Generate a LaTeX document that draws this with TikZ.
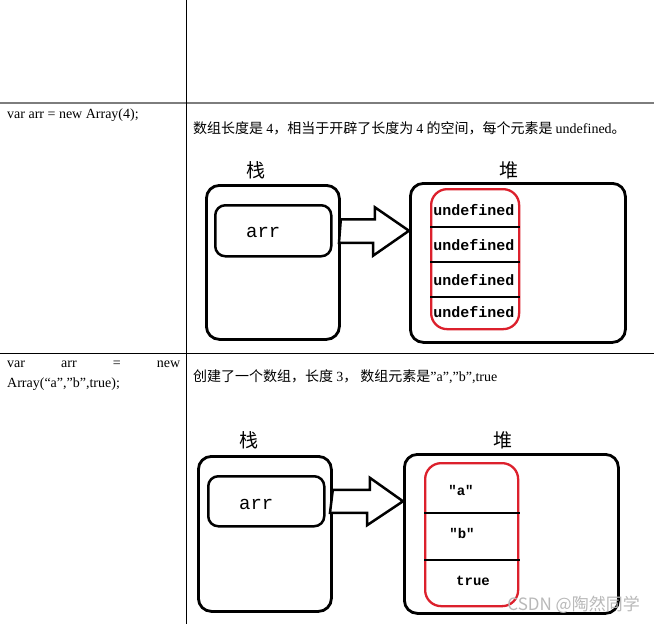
\documentclass[tikz,border=0pt]{standalone}
\usepackage{fontspec}
\setmainfont{Liberation Serif}
\setmonofont{Liberation Mono}
\newfontfamily\cjk{Noto Sans CJK SC}
\definecolor{BoxRed}{RGB}{220,32,44}
\definecolor{RuleGray}{RGB}{125,125,125}
\definecolor{MarkGray}{RGB}{185,185,185}
\usepackage{tikz}
\usetikzlibrary{positioning, calc}
\newcommand\lat[1]{{\rmfamily #1}}

\tikzset{
  outerbox/.style={draw, line width=2.8pt, rounded corners=13pt, anchor=north west, inner sep=0pt},
  arrbox/.style={draw, line width=2.5pt, rounded corners=10pt, anchor=north west, inner sep=0pt},
  redbox/.style={draw=BoxRed, line width=2.3pt, rounded corners=16pt, anchor=north west, inner sep=0pt},
  cellline/.style={line width=2.3pt},
  fatarrow/.style={draw, line width=2.5pt, fill=white, line join=miter},
  celltext/.style={font=\ttfamily\bfseries\fontsize{15}{17}\selectfont, inner sep=0pt},
  titletext/.style={font=\cjk\fontsize{19}{21}\selectfont, inner sep=0pt},
  bodytext/.style={font=\fontsize{14}{20}\selectfont, inner sep=0pt},
  notetext/.style={font=\cjk\fontsize{14}{16}\selectfont, inner sep=0pt, anchor=west}
}

\begin{document}
\begin{tikzpicture}[x=1pt, y=-1pt]
\useasboundingbox[fill=white] (0,0) rectangle (654,624);

% table
\draw[RuleGray, line width=2.2pt] (0,103) -- (654,103);
\draw[line width=1pt] (0,353) -- (654,353);
\draw[line width=1pt] (186,0) -- (186,624);

\node[bodytext, anchor=west] (codeA) at (7,115) {var arr = new Array(4);};
\node[bodytext, anchor=north west, text width=173pt, align=left] (codeB) at (7,361)
  {var\hfill arr\hfill =\hfill new\\Array(“a”,”b”,true);};
\node[notetext] (noteA) at (193,128)
  {数组长度是 \lat{4}，相当于开辟了长度为 \lat{4} 的空间，每个元素是 \lat{undefined}。};
\node[notetext] (noteB) at (193,377)
  {创建了一个数组，长度 \lat{3}， 数组元素是\lat{”a”,”b”,true}};

% first picture
\node[titletext] (stackA-title) at (256,170) {栈};
\node[titletext] (heapA-title) at (509,170) {堆};
\node[outerbox, minimum width=133pt, minimum height=154pt] (stackA) at (205,184) {};
\node[arrbox, minimum width=116pt, minimum height=51pt] (arrboxA) at (214,204) {};
\node[font=\ttfamily\fontsize{19}{21}\selectfont, inner sep=0pt] (arrA) at ($(arrboxA.center)+(-10,2)$) {arr};
\node[outerbox, minimum width=215pt, minimum height=159pt] (heapA) at (409,182) {};
\node[redbox, minimum width=88pt, minimum height=140pt] (cellsA) at (430,188) {};
\foreach \y in {227,262,297}
  \draw[cellline] (cellsA.west |- 0,\y) -- (520,\y);
\foreach \y [count=\i] in {210,245,280,312}
  \node[celltext] (undefA\i) at (474,\y) {undefined};
\draw[fatarrow] (stackA.east |- arrboxA.east) ++(0,-11.5) -- ++(34,0) -- ++(0,-12)
  -- (heapA.west |- arrboxA.east) -- ++(-36,25) -- ++(0,-13) -- ++(-34,0) -- cycle;

% second picture
\node[titletext] (stackB-title) at (249,440) {栈};
\node[titletext] (heapB-title) at (503,440) {堆};
\node[outerbox, minimum width=133pt, minimum height=155pt] (stackB) at (197,455) {};
\node[arrbox, minimum width=116pt, minimum height=50pt] (arrboxB) at (207,475) {};
\node[font=\ttfamily\fontsize{19}{21}\selectfont, inner sep=0pt] (arrB) at ($(arrboxB.center)+(-10,3)$) {arr};
\node[outerbox, minimum width=214pt, minimum height=159pt] (heapB) at (403,453) {};
\node[redbox, minimum width=93pt, minimum height=143pt] (cellsB) at (424,462) {};
\foreach \y in {513,560}
  \draw[cellline] (cellsB.west |- 0,\y) -- (520,\y);
\node[celltext, font=\ttfamily\bfseries\fontsize{14}{16}\selectfont] (itemB1) at (461,490) {"a"};
\node[celltext, font=\ttfamily\bfseries\fontsize{14}{16}\selectfont] (itemB2) at (462,533) {"b"};
\node[celltext, font=\ttfamily\bfseries\fontsize{14}{16}\selectfont] (itemB3) at (473,581) {true};
\draw[fatarrow] (stackB.east |- arrboxB.east) ++(0,-11.5) -- ++(37,0) -- ++(0,-12)
  -- (heapB.west |- arrboxB.east) -- ++(-36,24) -- ++(0,-12.5) -- ++(-37,0) -- cycle;

\node[font=\cjk\fontsize{17}{19}\selectfont, text=MarkGray, inner sep=0pt, anchor=east] (mark) at (640,605) {CSDN @陶然同学};
\end{tikzpicture}
\end{document}
